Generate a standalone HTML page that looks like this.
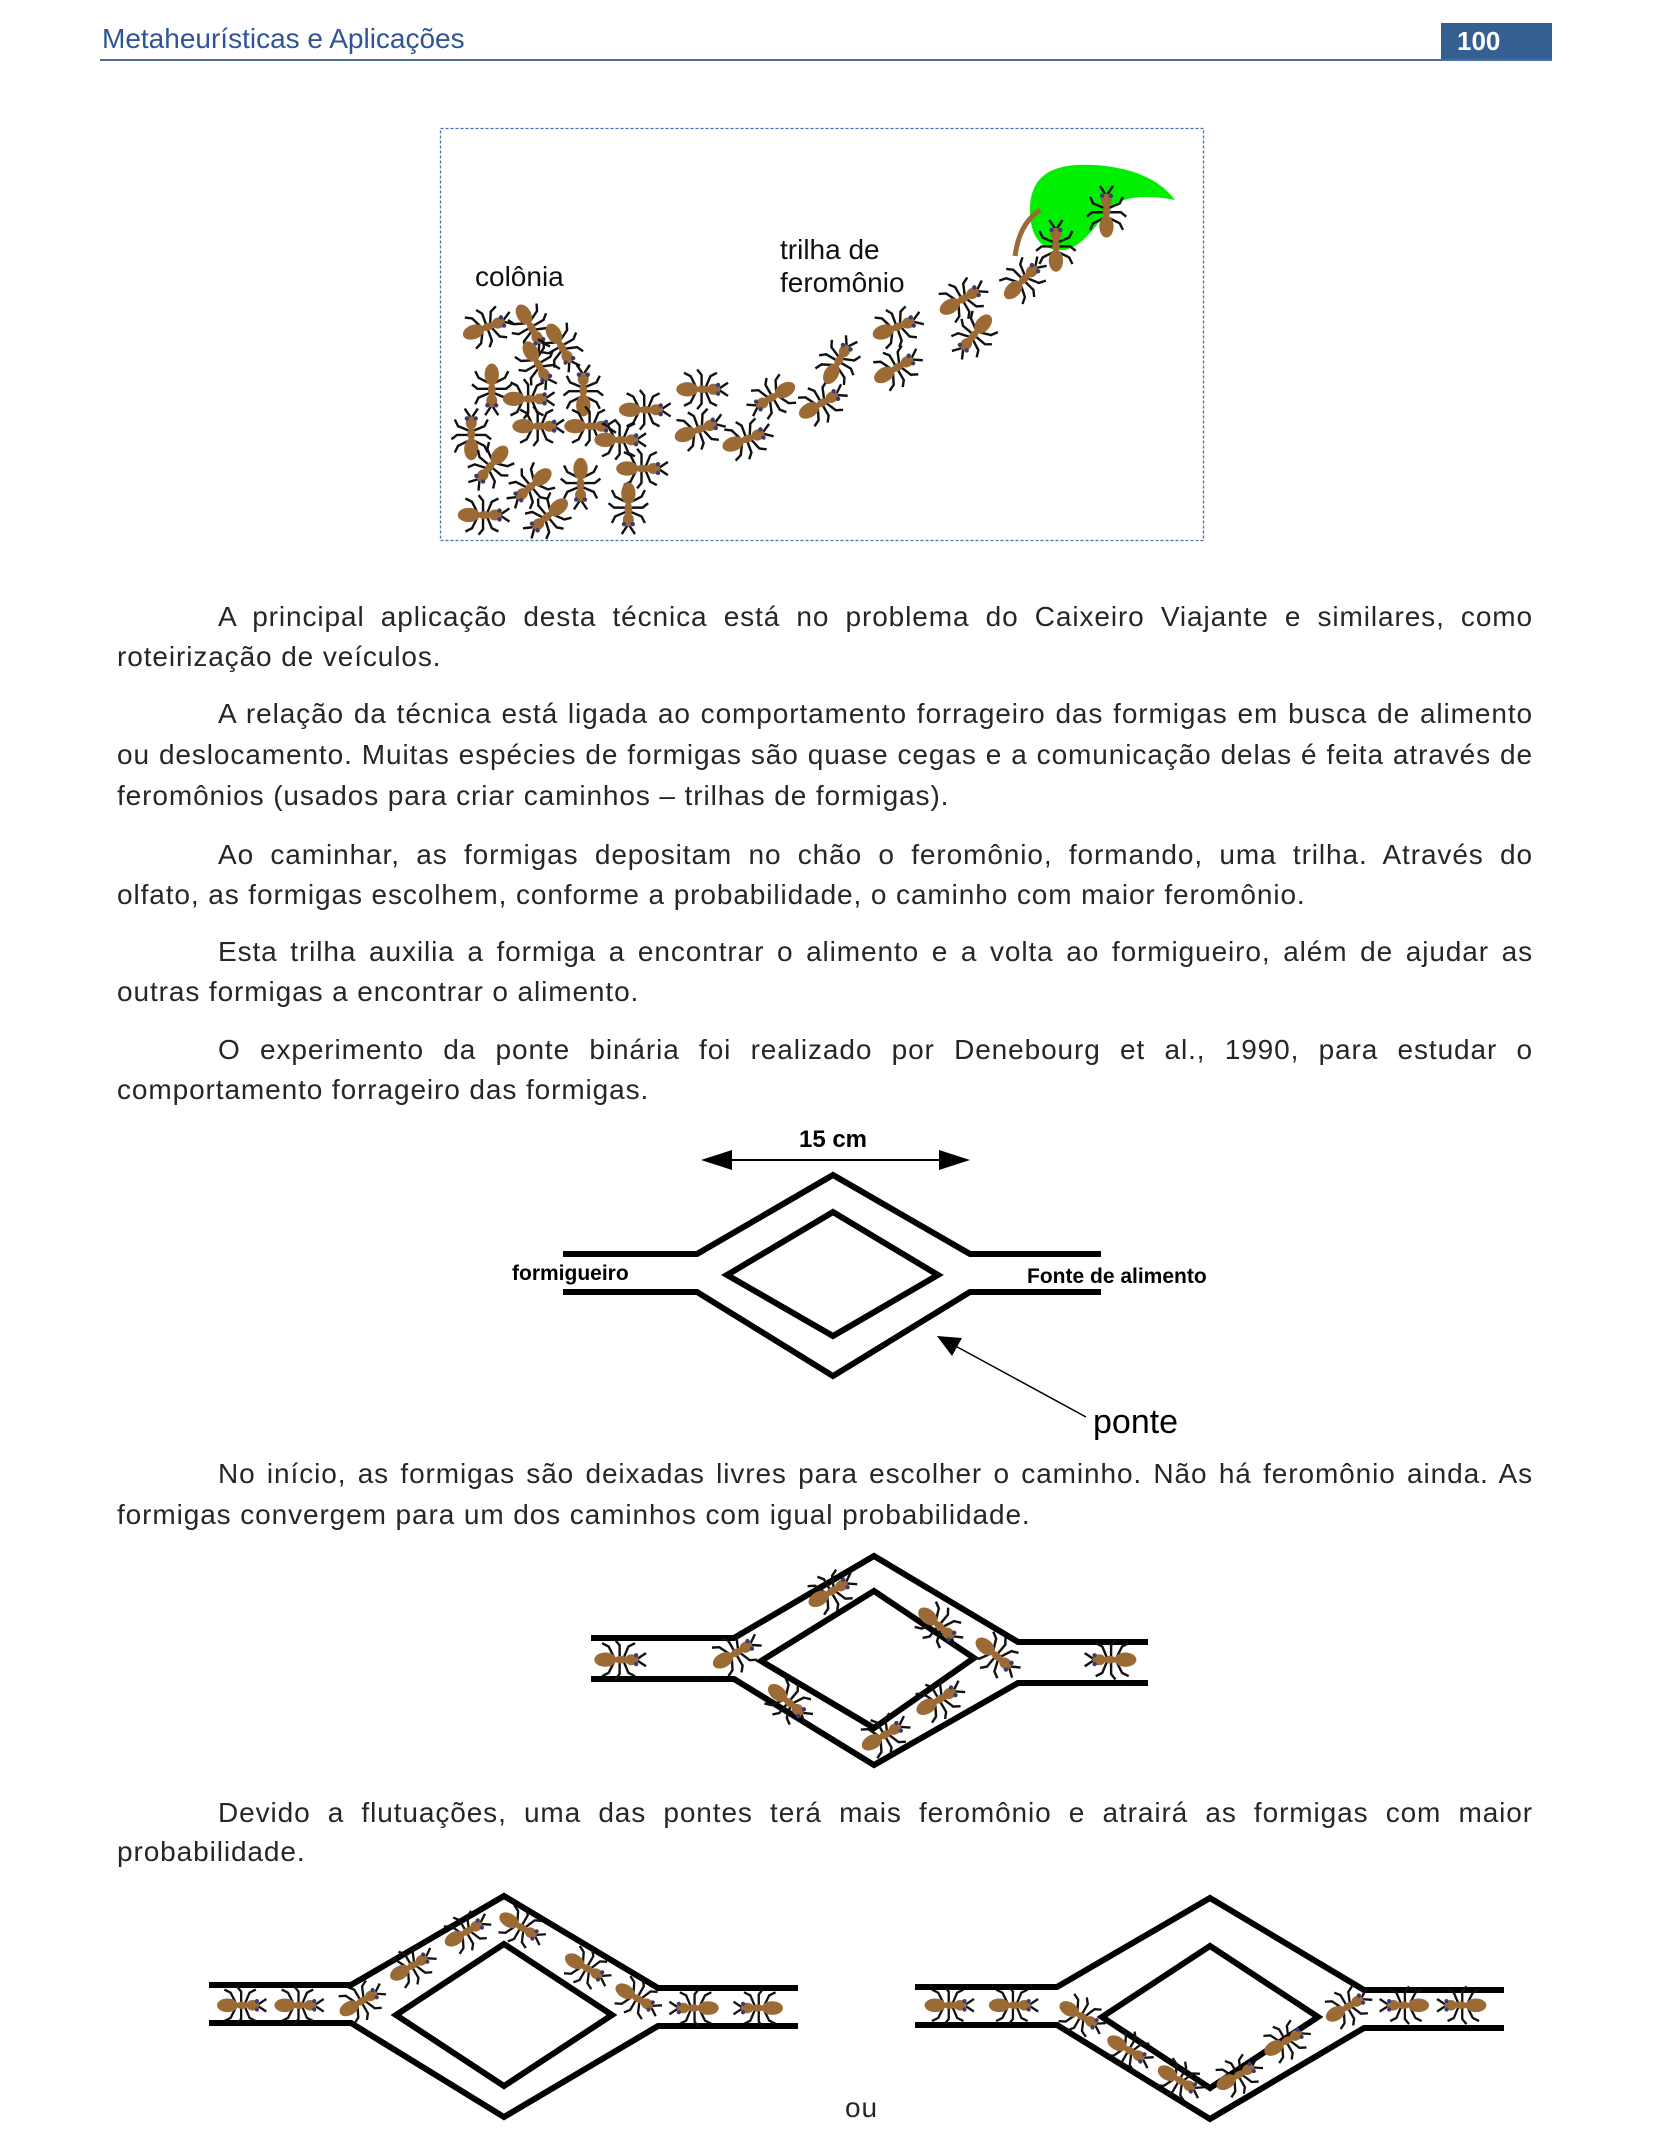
<!DOCTYPE html>
<html><head><meta charset="utf-8">
<style>
html,body{margin:0;padding:0;background:#fff;}
body{width:1653px;height:2143px;position:relative;overflow:hidden;font-family:"Liberation Sans",sans-serif;}
.hdr{position:absolute;left:102px;top:23px;font-size:28px;color:#2f5597;}
.num{position:absolute;left:1441px;top:23px;width:111px;height:37px;background:#365f91;color:#fff;font-weight:bold;font-size:26px;line-height:37px;padding-left:16px;box-sizing:border-box;}
.rule{position:absolute;left:100px;top:59px;width:1452px;height:2px;background:#4a6fa5;}
.ln{position:absolute;left:117px;width:1416px;font-size:28px;letter-spacing:0.9px;color:#262626;white-space:nowrap;height:34px;line-height:34px;}
.j{text-align:justify;text-align-last:justify;white-space:normal;}
.ind{left:218px;width:1315px;}
svg{position:absolute;left:0;top:0;}
</style></head><body>
<div class="hdr">Metaheurísticas e Aplicações</div>
<div class="num">100</div>
<div class="rule"></div>

<div class="ln j ind" style="top:600px">A principal aplicação desta técnica está no problema do Caixeiro Viajante e similares, como</div>
<div class="ln" style="top:640px">roteirização de veículos.</div>
<div class="ln j ind" style="top:697px">A relação da técnica está ligada ao comportamento forrageiro das formigas em busca de alimento</div>
<div class="ln j" style="top:738px">ou deslocamento. Muitas espécies de formigas são quase cegas e a comunicação delas é feita através de</div>
<div class="ln" style="top:779px">feromônios (usados para criar caminhos – trilhas de formigas).</div>
<div class="ln j ind" style="top:838px">Ao caminhar, as formigas depositam no chão o feromônio, formando, uma trilha. Através do</div>
<div class="ln" style="top:878px">olfato, as formigas escolhem, conforme a probabilidade, o caminho com maior feromônio.</div>
<div class="ln j ind" style="top:935px">Esta trilha auxilia a formiga a encontrar o alimento e a volta ao formigueiro, além de ajudar as</div>
<div class="ln" style="top:975px">outras formigas a encontrar o alimento.</div>
<div class="ln j ind" style="top:1033px">O experimento da ponte binária foi realizado por Denebourg et al., 1990, para estudar o</div>
<div class="ln" style="top:1073px">comportamento forrageiro das formigas.</div>
<div class="ln j ind" style="top:1457px">No início, as formigas são deixadas livres para escolher o caminho. Não há feromônio ainda. As</div>
<div class="ln" style="top:1498px">formigas convergem para um dos caminhos com igual probabilidade.</div>
<div class="ln j ind" style="top:1796px">Devido a flutuações, uma das pontes terá mais feromônio e atrairá as formigas com maior</div>
<div class="ln" style="top:1835px">probabilidade.</div>
<div class="ln" style="top:2091px;left:845px;width:60px">ou</div>

<svg width="1653" height="2143" viewBox="0 0 1653 2143">
<defs>
<g id="ant">
 <g stroke="#111" stroke-width="2.2" fill="none">
  <path d="M-2,0 L-8,-12 L-14,-15 M-2,0 L-8,12 L-14,15 M2,0 L2,-13 L-2,-18 M2,0 L2,13 L-2,18 M5,0 L10,-12 L16,-15 M5,0 L10,12 L16,15 M17,0 L23,-4 L26,-6 M17,0 L23,4 L26,6"/>
 </g>
 <ellipse cx="-11" cy="0" rx="10" ry="6.5" fill="#9c6a35"/>
 <ellipse cx="3" cy="0" rx="6" ry="3.5" fill="#9c6a35"/>
 <ellipse cx="13" cy="0" rx="6" ry="5" fill="#9c6a35"/>
 <circle cx="17" cy="-4" r="2" fill="#3a3a7a"/><circle cx="17" cy="4" r="2" fill="#3a3a7a"/>
</g>
</defs>
<rect x="440.5" y="128.5" width="763" height="412" fill="none" stroke="#4a72b0" stroke-width="1.3" stroke-dasharray="3,2"/>
<path d="M1030,210 C1030,170 1060,163 1095,165 C1135,168 1160,180 1175,200 C1150,195 1120,195 1110,210 C1095,225 1085,245 1065,250 C1040,252 1030,235 1030,210 Z" fill="#00ee00"/>
<path d="M1015,256 C1018,235 1025,220 1040,210" stroke="#9c6a35" stroke-width="5" fill="none"/>
<text x="475" y="286" font-size="28" fill="#111" font-family="Liberation Sans, sans-serif">colônia</text>
<text x="780" y="259" font-size="28" fill="#111" font-family="Liberation Sans, sans-serif">trilha de</text>
<text x="780" y="292" font-size="28" fill="#111" font-family="Liberation Sans, sans-serif">feromônio</text>
<g id="ants1"></g>

<g fill="none" stroke="#000" stroke-width="6" stroke-linejoin="miter">
 <polyline points="563,1254 697,1254 833,1175 970,1254 1101,1254"/>
 <polyline points="563,1292 697,1292 833,1376 970,1292 1101,1292"/>
 <polygon points="727,1275 833,1212 938,1275 833,1336"/>
</g>
<g stroke="#000" stroke-width="2">
 <line x1="720" y1="1160" x2="950" y2="1160"/>
</g>
<polygon points="701,1160 732,1150 732,1170" fill="#000"/>
<polygon points="970,1160 939,1150 939,1170" fill="#000"/>
<text x="833" y="1147" font-size="24" font-weight="bold" text-anchor="middle" font-family="Liberation Sans, sans-serif">15 cm</text>
<text x="512" y="1280" font-size="21" font-weight="bold" font-family="Liberation Sans, sans-serif">formigueiro</text>
<text x="1027" y="1283" font-size="21" font-weight="bold" font-family="Liberation Sans, sans-serif">Fonte de alimento</text>
<line x1="1086" y1="1417" x2="950" y2="1343" stroke="#000" stroke-width="1.5"/>
<polygon points="937,1336 962,1338 952,1356" fill="#000"/>
<text x="1093" y="1433" font-size="34" font-family="Liberation Sans, sans-serif">ponte</text>

<g fill="none" stroke="#000" stroke-width="6">
 <polyline points="591,1638 734,1638 874,1556 1018,1642 1148,1642"/>
 <polyline points="591,1679 734,1679 874,1765 1018,1683 1148,1683"/>
 <polygon points="761,1661 874,1591 974,1658 874,1728"/>
</g>
<g id="ants2"></g>

<g fill="none" stroke="#000" stroke-width="6">
 <polyline points="209,1985 351,1985 504,1896 658,1988 798,1988"/>
 <polyline points="209,2023 351,2023 504,2117 658,2026 798,2026"/>
 <polygon points="396,2015 504,1944 612,2015 504,2086"/>
</g>
<g fill="none" stroke="#000" stroke-width="6" transform="translate(706,2)">
 <polyline points="209,1985 351,1985 504,1896 658,1988 798,1988"/>
 <polyline points="209,2023 351,2023 504,2117 658,2026 798,2026"/>
 <polygon points="396,2015 504,1944 612,2015 504,2086"/>
</g>
<g id="ants3"></g>
</svg>
<script>
var S=1.366;
// ant positions in reference display coords [x,y,angle]
var ants1=[[355,240,-20],[388,238,60],[410,252,60],[393,265,60],[360,283,90],[385,292,0],[427,288,-90],[345,320,-90],[392,312,0],[430,312,0],[452,322,0],[470,300,0],[360,340,130],[390,355,140],[425,352,90],[468,343,0],[352,377,0],[402,377,140],[460,370,90],[512,285,0],[510,315,-20],[545,322,-20],[567,290,150],[600,296,-30],[613,266,-60],[655,240,-20],[655,270,-30],[703,220,-30],[714,244,130],[748,206,-45],[773,182,-90],[810,157,-90]];
var ants2=[[452,1215,0],[537,1211,-30],[607,1166,-30],[686,1189,40],[728,1211,40],[576,1245,40],[686,1245,-30],[646,1271,-30],[815,1215,180]];
var ants3=[[175,1468,0],[217,1468,0],[263,1466,-30],[300,1440,-30],[340,1415,-30],[380,1410,30],[428,1440,30],[465,1462,30],[510,1470,180],[557,1470,180],[693,1468,0],[740,1468,0],[790,1475,30],[825,1500,30],[862,1522,30],[905,1520,-30],[940,1495,-30],[985,1470,-30],[1030,1468,180],[1072,1468,180]];
function place(id,arr,sc){
 var g=document.getElementById(id);
 arr.forEach(function(a){
  var u=document.createElementNS('http://www.w3.org/2000/svg','use');
  u.setAttribute('href','#ant');
  u.setAttribute('transform','translate('+(a[0]*S)+','+(a[1]*S)+') rotate('+a[2]+') scale('+sc+')');
  
  
  g.appendChild(u);
 });
}
place('ants1',ants1,1.1);
place('ants2',ants2,1.1);
place('ants3',ants3,1.05);
</script>
</body></html>
